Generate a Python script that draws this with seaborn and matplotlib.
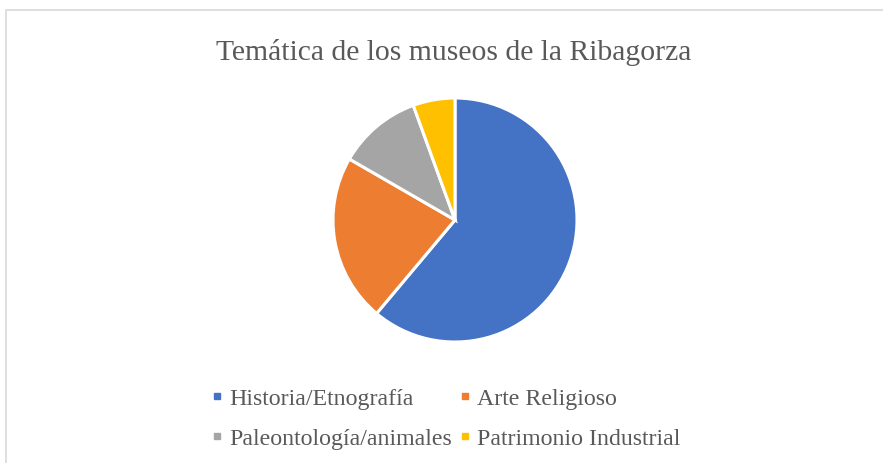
import matplotlib
matplotlib.use("Agg")
import matplotlib.pyplot as plt
from matplotlib.lines import Line2D
from matplotlib.patches import Rectangle
import seaborn as sns

categories = ["Historia/Etnografía", "Arte Religioso", "Paleontología/animales", "Patrimonio Industrial"]
values = [11, 4, 2, 1]
colors = ["#4472C4", "#ED7D31", "#A5A5A5", "#FFC000"]
title = "Temática de los museos de la Ribagorza"

sns.set_theme(style="white")
plt.rcParams["font.family"] = ["Liberation Serif", "DejaVu Serif"]

W, H = 883, 464
fig = plt.figure(figsize=(W / 100, H / 100), dpi=100)
fig.patch.set_facecolor("white")

cx, cy, r = 455, 221, 122
ax = fig.add_axes([(cx - r) / W, (H - cy - r) / H, 2 * r / W, 2 * r / H])
ax.pie(values, colors=colors, startangle=90, counterclock=False, radius=1,
       wedgeprops=dict(edgecolor="white", linewidth=2.2))
ax.set_xlim(-1, 1)
ax.set_ylim(-1, 1)
ax.set_aspect("equal")
ax.axis("off")

fig.text(453.5 / W, 1 - 60 / H, title, ha="center", va="baseline", fontsize=21.3, color="#595959")

handles = [Line2D([], [], marker="s", linestyle="none", markersize=5,
                  markerfacecolor=c, markeredgecolor=c) for c in colors]
order = [0, 2, 1, 3]
leg = fig.legend([handles[i] for i in order], [categories[i] for i in order],
                 ncol=2, loc="center", bbox_to_anchor=(447 / W, 1 - 419.5 / H),
                 frameon=False, fontsize=17.2, handlelength=0.3, handletextpad=0.35,
                 columnspacing=0.43, labelspacing=0.77, borderaxespad=0, borderpad=0)
for t in leg.get_texts():
    t.set_color("#595959")

fig.patches.append(Rectangle((5.5 / W, -0.1), 1.2, 1.1 - 10.5 / H, transform=fig.transFigure,
                             fill=False, edgecolor="#D9D9D9", linewidth=1.2, figure=fig))

fig.savefig("out.png", dpi=100)
